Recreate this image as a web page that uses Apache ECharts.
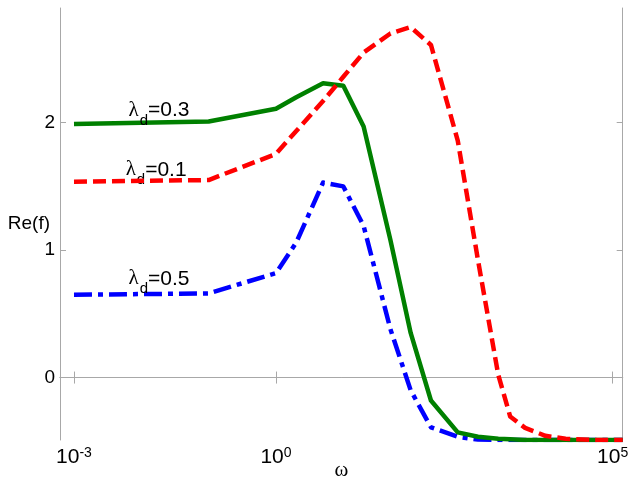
<!DOCTYPE html>
<html><head><meta charset="utf-8">
<script src="https://cdn.jsdelivr.net/npm/echarts@6/dist/echarts.min.js"></script>
<style>html,body{margin:0;padding:0;background:#fff}#c{width:635px;height:483px}</style>
</head><body><div id="c"></div>
<script>
// angular frequency omega (log axis)
const omega = [0.001, 0.1, 1, 2, 5, 10, 20, 50, 100, 200, 500, 1000, 2000, 3000, 5000, 10000, 20000, 50000, 140800];
// Re(f) for each lambda_d
const reLambda01 = [1.537, 1.55, 1.755, 1.935, 2.17, 2.36, 2.55, 2.70, 2.75, 2.61, 1.86, 0.92, 0.02, -0.305, -0.395, -0.457, -0.48, -0.49, -0.49];
const reLambda03 = [1.99, 2.01, 2.11, 2.20, 2.31, 2.29, 1.97, 1.08, 0.35, -0.18, -0.43, -0.465, -0.48, -0.485, -0.49, -0.49, -0.49, -0.49, -0.49];
const reLambda05 = [0.65, 0.66, 0.82, 1.06, 1.53, 1.50, 1.19, 0.38, -0.10, -0.39, -0.465, -0.487, -0.49, -0.49, -0.49, -0.49, -0.49, -0.49, -0.49];
const curveNames = ['0.1', '0.3', '0.5'];
const xTickValues = [0.001, 1, 100000];
const yTickValues = [0, 1, 2];
const xRange = [0.00062, 140800];
const yRange = [-0.49, 2.9];
// label anchors (data space)
const labelOmega = [0.0166, 0.0183, 0.0183];
const labelRe = [1.625, 2.092, 0.770];

const axisGray = '#a8a8a8';
const colors = ['#ff0000', '#008000', '#0000ff'];
const dashes = [[13, 6], 'solid', [18, 6, 5, 6]];
const seriesVals = [reLambda01, reLambda03, reLambda05];
const order = [2, 1, 0];

const chart = echarts.init(document.getElementById('c'), null, {renderer: 'canvas'});
const series = order.map(i => ({
  type: 'line',
  name: curveNames[i],
  data: omega.map((w, k) => [w, seriesVals[i][k]]),
  showSymbol: false,
  symbol: 'none',
  smooth: false,
  z: 3 - i + 2,
  lineStyle: {color: colors[i], width: 4.5, type: dashes[i], cap: 'butt', join: 'round'},
  markPoint: {
    symbol: 'circle', symbolSize: 0,
    itemStyle: {color: 'transparent'},
    data: [{coord: [labelOmega[i], labelRe[i]]}],
    label: {
      show: true, position: 'inside',
      formatter: '{g|λ}{s|d}{t|=' + curveNames[i] + '}',
      rich: {
        g: {fontFamily: 'Liberation Serif', fontSize: 21, color: '#000', lineHeight: 22, verticalAlign: 'top'},
        s: {fontFamily: 'Liberation Sans', fontSize: 15, color: '#000', lineHeight: 15, padding: [13, 0, 0, 1], verticalAlign: 'top'},
        t: {fontFamily: 'Liberation Sans', fontSize: 21, color: '#000', lineHeight: 22, verticalAlign: 'top'}
      }
    }
  }
}));

const xLabelFmt = v => '{b|10}{s|' + Math.round(Math.log10(v)) + '}';

chart.setOption({
  animation: false,
  backgroundColor: '#fff',
  grid: {left: 60, right: 12.3, top: 8, bottom: 43, containLabel: false, outerBoundsMode: 'none'},
  xAxis: [{
    type: 'log', min: xRange[0], max: xRange[1], logBase: 10,
    name: 'ω', nameLocation: 'middle', nameGap: 20, nameMoveOverlap: false,
    nameTextStyle: {fontFamily: 'Liberation Serif', fontSize: 21, color: '#000'},
    axisLine: {show: true, lineStyle: {color: axisGray, width: 1}},
    axisTick: {show: true, inside: true, length: 6, lineStyle: {color: axisGray}, customValues: xTickValues},
    axisLabel: {
      show: true, margin: 6, customValues: xTickValues, formatter: xLabelFmt,
      rich: {
        b: {fontFamily: 'Liberation Sans', fontSize: 21, color: '#000', lineHeight: 22, verticalAlign: 'bottom'},
        s: {fontFamily: 'Liberation Sans', fontSize: 14, color: '#000', lineHeight: 14, padding: [0, 0, 14, 0], verticalAlign: 'top'}
      }
    },
    splitLine: {show: false}, minorTick: {show: false}
  }, {
    type: 'log', min: xRange[0], max: xRange[1], logBase: 10, position: 'top',
    axisLine: {show: true, lineStyle: {color: axisGray, width: 1}},
    axisTick: {show: true, inside: true, length: 6, lineStyle: {color: axisGray}, customValues: xTickValues},
    axisLabel: {show: false},
    splitLine: {show: false}
  }],
  yAxis: [{
    type: 'value', min: yRange[0], max: yRange[1],
    name: 'Re(f)', nameLocation: 'middle', nameRotate: 0, nameGap: 10, nameMoveOverlap: false,
    nameTextStyle: {fontFamily: 'Liberation Sans', fontSize: 19, color: '#000', padding: [0, 0, 24, 0], align: 'right'},
    axisLine: {show: true, lineStyle: {color: axisGray, width: 1}},
    axisTick: {show: true, inside: true, length: 6, lineStyle: {color: axisGray}, customValues: yTickValues},
    axisLabel: {show: true, margin: 5, customValues: yTickValues, fontFamily: 'Liberation Sans', fontSize: 19, color: '#000'},
    splitLine: {show: false}
  }, {
    type: 'value', min: yRange[0], max: yRange[1], position: 'right',
    axisLine: {show: true, lineStyle: {color: axisGray, width: 1}},
    axisTick: {show: true, inside: true, length: 6, lineStyle: {color: axisGray}, customValues: yTickValues},
    axisLabel: {show: false},
    splitLine: {show: false}
  }],
  series: series
});
</script>
</body></html>
